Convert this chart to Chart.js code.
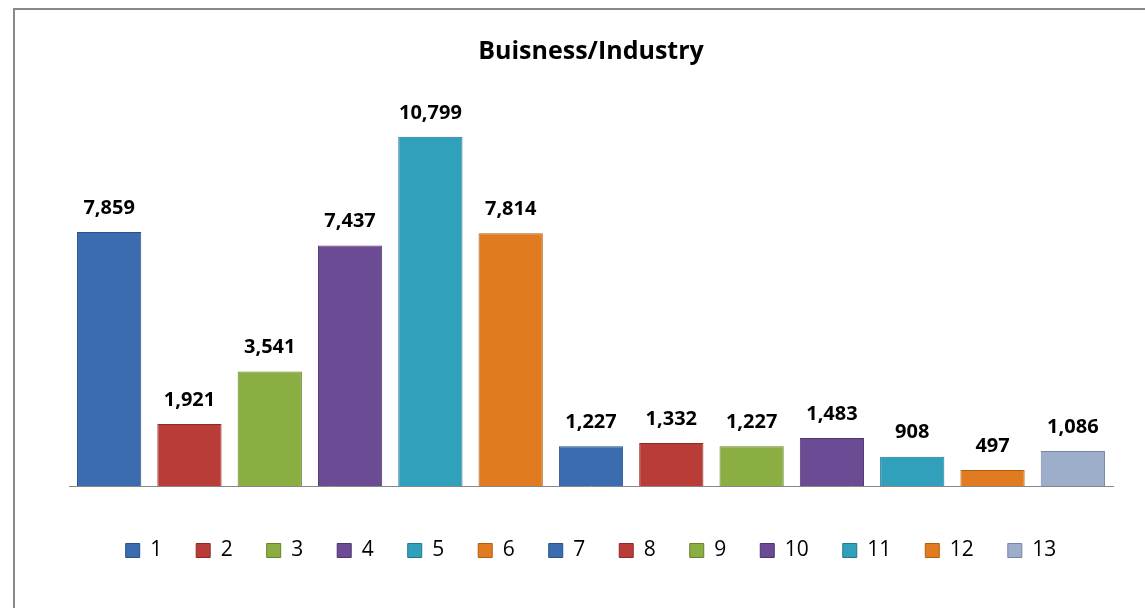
<!DOCTYPE html>
<html>
<head>
<meta charset="utf-8">
<script src="https://cdn.jsdelivr.net/npm/chart.js@4.4.1/dist/chart.umd.min.js"></script>
<style>
  body { margin: 0; background: #fff; overflow: hidden; }
  #box { position: absolute; left: 13px; top: 8px; width: 1145px; height: 620px; border: 2px solid #888; }
</style>
</head>
<body>
<div id="box"><canvas id="myChart" width="1145" height="600"></canvas></div>
<script>
// datos
const categorias = ['1', '2', '3', '4', '5', '6', '7', '8', '9', '10', '11', '12', '13'];
const valores = [7859, 1921, 3541, 7437, 10799, 7814, 1227, 1332, 1227, 1483, 908, 497, 1086];
const colores = ['#3B6CB0', '#BA3C39', '#8BAE43', '#6B4B93', '#31A1BB', '#E17B1F',
                 '#3B6CB0', '#BA3C39', '#8BAE43', '#6B4B93', '#31A1BB', '#E17B1F', '#9DAECB'];
const bordes = ['#2B5088', '#8E2B29', '#66832C', '#4E3570', '#22788C', '#B05E12',
                '#2B5088', '#8E2B29', '#66832C', '#4E3570', '#22788C', '#B05E12', '#7486A6'];
const titulo = 'Buisness/Industry';

// un dataset por barra para que salga en la leyenda
const datasets = categorias.map((cat, i) => ({
    label: cat,
    data: categorias.map((c, j) => j === i ? valores[i] : null),
    backgroundColor: colores[i],
    borderColor: bordes[i],
    borderWidth: 1
}));

const etiquetas = {
    id: 'etiquetas',
    afterDatasetsDraw(chart) {
        const ctx = chart.ctx;
        ctx.save();
        ctx.font = 'bold 20px "Open Sans"';
        ctx.fillStyle = '#000';
        ctx.textAlign = 'center';
        ctx.textBaseline = 'middle';
        chart.data.datasets.forEach((ds, i) => {
            chart.getDatasetMeta(i).data.forEach((bar, j) => {
                if (ds.data[j] == null) return;
                ctx.fillText(ds.data[j].toLocaleString('en-US'), bar.x, bar.y - 24);
            });
        });
        ctx.restore();
    }
};

new Chart(document.getElementById('myChart'), {
    type: 'bar',
    data: { labels: categorias, datasets: datasets },
    options: {
        responsive: false,
        animation: false,
        devicePixelRatio: 1,
        layout: { padding: { left: 54, right: 47, top: 0, bottom: 39 } },
        datasets: { bar: { skipNull: true, categoryPercentage: 0.8, barPercentage: 1 } },
        scales: {
            x: {
                grid: { display: false },
                ticks: { display: false },
                border: { color: '#888', width: 1 },
                afterFit(scale) { scale.height = 20; }
            },
            y: { display: false, min: 0, max: 12000 }
        },
        plugins: {
            title: {
                display: true,
                text: titulo,
                color: '#000',
                font: { family: '"Open Sans"', size: 25, weight: 'bold' },
                padding: { top: 27, bottom: 31 }
            },
            legend: {
                position: 'bottom',
                labels: {
                    boxWidth: 14,
                    boxHeight: 14,
                    padding: 34,
                    color: '#000',
                    font: { family: '"Open Sans"', size: 21 }
                }
            },
            tooltip: { enabled: false }
        }
    },
    plugins: [etiquetas]
});
</script>
</body>
</html>
